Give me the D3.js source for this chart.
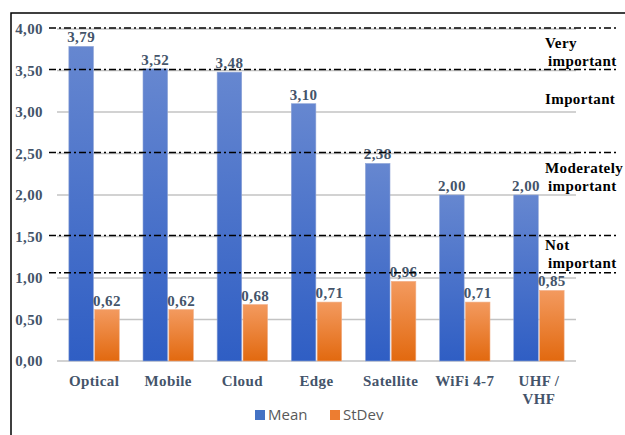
<!DOCTYPE html>
<html>
<head>
<meta charset="utf-8">
<script src="https://cdn.jsdelivr.net/npm/d3@7"></script>
<style>
  body { margin: 0; background: #fff; }
  svg { display: block; }
  .serif { font-family: 'Liberation Serif', 'DejaVu Serif', 'Times New Roman', serif; font-weight: bold; font-size: 15px; letter-spacing: 0.4px; }
</style>
</head>
<body>
<div id="chart"></div>
<script>
// data
const categories = ['Optical', 'Mobile', 'Cloud', 'Edge', 'Satellite', 'WiFi 4-7', 'UHF / VHF'];
const meanValues = [3.79, 3.52, 3.48, 3.10, 2.38, 2.00, 2.00];
const stdevValues = [0.62, 0.62, 0.68, 0.71, 0.96, 0.71, 0.85];
const seriesNames = ['Mean', 'StDev'];
const yTicks = [0, 0.5, 1, 1.5, 2, 2.5, 3, 3.5, 4];
// importance thresholds (dash-dot lines)
const thresholds = [4.0, 3.5, 2.5, 1.5, 1.05];
const bandLabels = [
    { y: 3.72, lines: ['Very', 'important'] },
    { y: 3.16, lines: ['Important'] },
    { y: 2.22, lines: ['Moderately', 'important'] },
    { y: 1.29, lines: ['Not', 'important'] }
];

const width = 625, height = 435;
const margin = { left: 57, right: 49, top: 29, bottom: 74 };

const svg = d3.select('#chart').append('svg')
    .attr('width', width)
    .attr('height', height);

const defs = svg.append('defs');
function grad(id, top, bottom) {
    const g = defs.append('linearGradient').attr('id', id)
        .attr('x1', 0).attr('y1', 0).attr('x2', 0).attr('y2', 1);
    g.append('stop').attr('offset', '0%').attr('stop-color', top);
    g.append('stop').attr('offset', '100%').attr('stop-color', bottom);
}
grad('gMean', '#6687d0', '#2f5ec4');
grad('gStd', '#f39a5f', '#e2690f');

const x = d3.scaleBand()
    .domain(categories)
    .range([margin.left, width - margin.right])
    .paddingInner(0.32)
    .paddingOuter(0.16);

const xSub = d3.scaleBand()
    .domain(seriesNames)
    .range([0, x.bandwidth()])
    .paddingInner(0.05);

const y = d3.scaleLinear()
    .domain([0, 4])
    .range([height - margin.bottom, margin.top]);

const fmt = d3.formatLocale({ decimal: ',', thousands: '.', grouping: [3], currency: ['', ''] }).format('.2f');
const labelColor = '#44546a';

// frame
svg.append('path')
    .attr('d', `M11,${height} L11,13 L${width},13`)
    .attr('fill', 'none')
    .attr('stroke', '#000')
    .attr('stroke-width', 1.5);

// gridlines
svg.append('g').selectAll('line')
    .data(yTicks)
    .join('line')
    .attr('x1', margin.left)
    .attr('x2', width - margin.right)
    .attr('y1', d => y(d))
    .attr('y2', d => y(d))
    .attr('stroke', '#c3c3c3')
    .attr('stroke-width', 1.5);

// y axis labels
const yAxis = svg.append('g')
    .attr('transform', `translate(${margin.left},0)`)
    .call(d3.axisLeft(y).tickValues(yTicks).tickFormat(fmt).tickSize(0).tickPadding(14));
yAxis.select('.domain').remove();
yAxis.attr('font-family', null).attr('font-size', null);
yAxis.selectAll('text')
    .attr('class', 'serif')
    .attr('fill', labelColor);

// bars
const groups = svg.append('g').selectAll('g')
    .data(categories)
    .join('g')
    .attr('transform', d => `translate(${x(d)},0)`);

const rows = categories.map((c, i) => [
    { key: 'Mean', value: meanValues[i] },
    { key: 'StDev', value: stdevValues[i] }
]);

groups.selectAll('rect')
    .data((d, i) => rows[i])
    .join('rect')
    .attr('x', d => xSub(d.key))
    .attr('width', xSub.bandwidth())
    .attr('y', d => y(d.value))
    .attr('height', d => y(0) - y(d.value))
    .attr('fill', d => d.key === 'Mean' ? 'url(#gMean)' : 'url(#gStd)')
    .attr('stroke', d => d.key === 'Mean' ? '#8ea4d6' : '#f2b08a')
    .attr('stroke-width', 0.6);

groups.selectAll('text.val')
    .data((d, i) => rows[i])
    .join('text')
    .attr('class', 'val serif')
    .attr('x', d => xSub(d.key) + xSub.bandwidth() / 2)
    .attr('y', d => y(d.value) - 4)
    .attr('text-anchor', 'middle')
    .attr('fill', labelColor)
    .text(d => fmt(d.value));

// threshold lines
svg.append('g').selectAll('line')
    .data(thresholds)
    .join('line')
    .attr('x1', 49)
    .attr('x2', 616)
    .attr('y1', d => y(d) - 1)
    .attr('y2', d => y(d) - 1)
    .attr('stroke', '#000')
    .attr('stroke-width', 1.5)
    .attr('stroke-dasharray', '7,3,2,3');

// band labels on the right
const bl = svg.append('g').selectAll('text')
    .data(bandLabels)
    .join('text')
    .attr('class', 'serif')
    .attr('fill', '#000')
    .attr('y', d => y(d.y) - (d.lines.length - 1) * 9 + 5);
bl.selectAll('tspan')
    .data(d => d.lines)
    .join('tspan')
    .attr('x', (d, i) => i === 0 ? 545 : 548)
    .attr('dy', (d, i) => i === 0 ? 0 : 18)
    .text(d => d);

// category labels
const cat = svg.append('g').selectAll('text')
    .data(categories)
    .join('text')
    .attr('class', 'serif')
    .attr('text-anchor', 'middle')
    .attr('fill', labelColor)
    .attr('y', 386);
cat.selectAll('tspan')
    .data(d => d === 'UHF / VHF' ? ['UHF /', 'VHF'] : [d])
    .join('tspan')
    .attr('x', function() { const c = d3.select(this.parentNode).datum(); return x(c) + x.bandwidth() / 2; })
    .attr('dy', (d, i) => i === 0 ? 0 : 18)
    .text(d => d);

// legend
const legend = svg.append('g').attr('transform', 'translate(255,410)');
const legendX = [0, 75];
const legendColors = ['#4472c4', '#ed7d31'];
seriesNames.forEach((s, i) => {
    legend.append('rect')
        .attr('x', legendX[i])
        .attr('y', 0)
        .attr('width', 10)
        .attr('height', 10)
        .attr('fill', legendColors[i]);
    legend.append('text')
        .attr('x', legendX[i] + 13)
        .attr('y', 10)
        .attr('font-family', '"Open Sans", "Liberation Sans", sans-serif')
        .attr('font-size', 15)
        .attr('fill', '#595959')
        .text(s);
});
</script>
</body>
</html>
